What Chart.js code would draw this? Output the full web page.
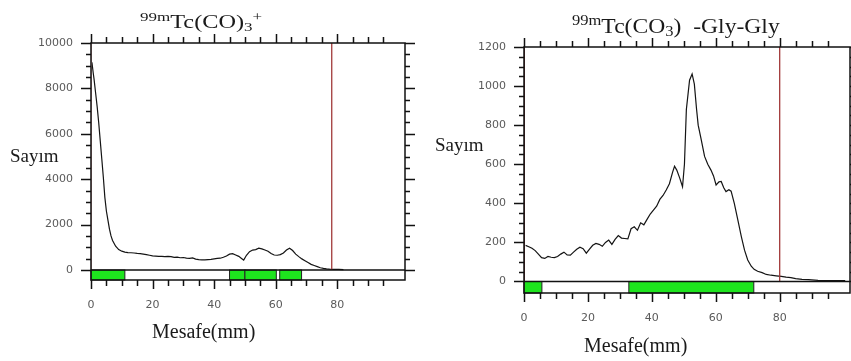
<!DOCTYPE html>
<html>
<head>
<meta charset="utf-8">
<script src="https://cdn.jsdelivr.net/npm/chart.js@4.4.0/dist/chart.umd.min.js"></script>
<style>
  body { margin: 0; background: #fff; width: 851px; height: 361px; position: relative; overflow: hidden; }
  canvas { position: absolute; top: 0; }
  #leftChart { left: 0; }
  #rightChart { left: 425px; }
  .txt { position: absolute; white-space: nowrap; color: #1a1a1a; font-family: "Liberation Serif", serif; line-height: 1; transform-origin: left top; }
  .sup { position: relative; font-size: 0.7em; top: -0.55em; }
  .sub { position: relative; font-size: 0.7em; top: 0.2em; }
</style>
</head>
<body>
<canvas id="leftChart" width="425" height="361"></canvas>
<canvas id="rightChart" width="426" height="361"></canvas>

<div class="txt" style="left:140px; top:13px; font-size:18px; transform:scaleX(1.35)"><span class="sup">99m</span>Tc(CO)<span class="sub">3</span><span class="sup">+</span></div>
<div class="txt" style="left:572px; top:16px; font-size:20px; transform:scaleX(1.18)"><span class="sup">99m</span>Tc(CO<span class="sub">3</span>)&nbsp; -Gly-Gly</div>
<div class="txt" style="left:10px; top:146px; font-size:19px">Sayım</div>
<div class="txt" style="left:435px; top:135px; font-size:19px">Sayım</div>
<div class="txt" style="left:152px; top:321px; font-size:20px">Mesafe(mm)</div>
<div class="txt" style="left:584px; top:335px; font-size:20px">Mesafe(mm)</div>

<script>
// tick labels shared by both panels
const xTickLabels = [0, 20, 40, 60, 80];
const xTickMarks = [0, 5, 10, 15, 20, 25, 30, 35, 40, 45, 50, 55, 60, 65, 70, 75, 80, 85, 90, 95];

// left panel: 99mTc(CO)3+
const leftDistance = [0.3, 0.7, 1, 1.5, 2, 2.5, 3, 3.5, 4, 4.5, 5, 5.5, 6, 6.5, 7, 8, 9, 10, 11, 12, 13, 14, 15,
  16, 17, 18, 19, 20, 21, 22, 23, 24, 25, 26, 27, 28, 29, 30, 31, 32, 33, 34, 35, 36, 37, 38, 39, 40, 41, 42,
  43, 44, 45, 46, 47, 48, 49, 49.6, 50.5, 51.5, 52.5, 53.5, 54.5, 55.5, 56.5, 57.5, 58.5, 59.5, 60.5, 61.5,
  62.5, 63.5, 64.5, 65.5, 66.5, 67.5, 68.5, 69.5, 70.5, 71.5, 72.5, 73.5, 74.5, 75.5, 76.5, 77.5, 79, 80.5, 82];
const leftCounts = [9150, 8700, 8400, 7800, 7200, 6500, 5700, 4900, 4100, 3200, 2600, 2200, 1800, 1500, 1300,
  1050, 900, 830, 790, 770, 760, 750, 730, 720, 700, 680, 650, 620, 610, 600, 600, 590, 600, 590, 560, 570,
  540, 550, 520, 510, 530, 480, 460, 450, 450, 460, 470, 490, 510, 520, 560, 620, 700, 720, 660, 600, 500,
  440, 650, 810, 880, 900, 960, 930, 880, 830, 730, 660, 650, 680, 750, 880, 960, 860, 700, 590, 490, 410,
  330, 250, 200, 150, 100, 70, 50, 40, 30, 30, 20];
const leftYTickLabels = [0, 2000, 4000, 6000, 8000, 10000];
const leftMarkers = [0, 78.2];
const leftZones = [[0, 11], [45, 50], [50, 60.2], [61.3, 68.4]];

// right panel: 99mTc(CO3)-Gly-Gly
const rightDistance = [0.5, 1.5, 2.5, 3.5, 4.5, 5.5, 6.5, 7.5, 8.5, 9.5, 10.5, 11.5, 12.5, 13.5, 14.5, 15.5,
  16.5, 17.5, 18.5, 19.5, 20.5, 21.5, 22.5, 23.5, 24.5, 25.5, 26.5, 27.5, 28.5, 29.5, 30.5, 31.5, 32.5, 33.5,
  34.5, 35.5, 36.5, 37.5, 38.5, 39.5, 40.5, 41.5, 42.5, 43.5, 44.5, 45.5, 46.5, 47.1, 47.8, 48.7, 49.6, 50.2,
  50.8, 51.8, 52.6, 53.3, 54, 54.5, 55.4, 56.5, 57.5, 58.5, 59.3, 60.1, 61, 61.7, 62.5, 63.2, 64.1, 64.8,
  65.8, 66.9, 68, 69, 70, 71.1, 72, 73.1, 74.5, 75.8, 77.3, 78.9, 80.5, 82, 83.5, 85, 87, 89, 92, 95, 98, 100.5];
const rightCounts = [185, 178, 170, 158, 140, 122, 118, 128, 124, 122, 128, 140, 150, 136, 135, 150, 165, 175,
  168, 145, 165, 185, 195, 190, 180, 200, 212, 190, 215, 235, 222, 220, 218, 270, 280, 262, 300, 290, 318,
  345, 365, 385, 420, 440, 468, 500, 560, 590, 570, 530, 485, 600, 880, 1030, 1062, 1010, 880, 800, 730,
  640, 600, 570, 540, 494, 510, 512, 480, 460, 470, 462, 400, 315, 230, 160, 110, 78, 62, 52, 45, 36, 32,
  29, 26, 22, 20, 15, 11, 9, 6, 5, 5, 5];
const rightYTickLabels = [0, 200, 400, 600, 800, 1000, 1200];
const rightMarkers = [0, 80];
const rightZones = [[0, 5.6], [32.8, 71.9]];

// frame, tick marks and green strip (TLC lane)
const framePlugin = {
  id: 'frame',
  afterDraw(chart, args, opts) {
    const { ctx, chartArea: a, scales: { x, y } } = chart;
    const y0 = y.getPixelForValue(0);
    ctx.save();
    opts.zones.forEach(([s, e]) => {
      const x1 = x.getPixelForValue(s), x2 = x.getPixelForValue(e);
      ctx.fillStyle = '#1ee41e';
      ctx.fillRect(x1, y0, x2 - x1, a.bottom - y0);
      ctx.strokeStyle = '#222';
      ctx.lineWidth = 1;
      ctx.strokeRect(x1, y0, x2 - x1, a.bottom - y0);
    });
    ctx.strokeStyle = '#111';
    ctx.lineWidth = 1.5;
    ctx.strokeRect(a.left, a.top, a.width, a.height);
    ctx.beginPath();
    ctx.moveTo(a.left, y0);
    ctx.lineTo(a.right, y0);
    // y tick marks, left and right side
    for (let v = 0; v <= opts.yMax; v += opts.yMinor) {
      const py = Math.round(y.getPixelForValue(v)) + 0.5;
      const len = v % opts.yMajor === 0 ? 10 : 5;
      ctx.moveTo(a.left - len, py);
      ctx.lineTo(a.left, py);
      ctx.moveTo(a.right, py);
      ctx.lineTo(a.right + len, py);
    }
    // x tick marks, top and bottom side
    xTickMarks.forEach(v => {
      const px = Math.round(x.getPixelForValue(v)) + 0.5;
      const len = v % 20 === 0 ? 9 : 6;
      ctx.moveTo(px, a.top - len);
      ctx.lineTo(px, a.top);
      ctx.moveTo(px, a.bottom);
      ctx.lineTo(px, a.bottom + len);
    });
    ctx.stroke();
    ctx.restore();
  }
};

function makeChart(id, cfg) {
  const markerSets = cfg.markers.map((m, i) => ({
    data: [{ x: m, y: 0 }, { x: m, y: cfg.yMax }],
    borderColor: i === 0 ? cfg.originColor : '#a23a3a',
    borderWidth: i === 0 ? 2 : 1.3,
    pointRadius: 0
  }));
  return new Chart(document.getElementById(id), {
    type: 'line',
    data: {
      datasets: markerSets.concat([{
        data: cfg.distance.map((d, i) => ({ x: d, y: cfg.counts[i] })),
        borderColor: '#141414',
        borderWidth: 1.2,
        pointRadius: 0,
        tension: 0
      }])
    },
    options: {
      responsive: false,
      animation: false,
      layout: { padding: { top: cfg.top, right: cfg.right, left: 0, bottom: 0 } },
      plugins: {
        legend: { display: false },
        tooltip: { enabled: false },
        frame: { zones: cfg.zones, yMax: cfg.yMax, yMinor: cfg.yMinor, yMajor: cfg.yMajor }
      },
      scales: {
        x: {
          type: 'linear', min: 0, max: 102,
          afterBuildTicks: s => { s.ticks = xTickLabels.map(v => ({ value: v })); },
          afterFit: s => { s.height = cfg.xHeight; },
          grid: { display: false, drawTicks: false },
          border: { display: false },
          ticks: { padding: 19, color: '#5a5a5a', autoSkip: false, maxRotation: 0,
                   font: { family: 'DejaVu Sans', size: 11 }, callback: v => String(v) }
        },
        y: {
          type: 'linear', min: cfg.yMin, max: cfg.yMax,
          afterBuildTicks: s => { s.ticks = cfg.yLabels.map(v => ({ value: v })); },
          afterFit: s => { s.width = cfg.yWidth; },
          grid: { display: false, drawTicks: false },
          border: { display: false },
          ticks: { padding: 18, color: '#5a5a5a', autoSkip: false,
                   font: { family: 'DejaVu Sans', size: 11 }, callback: v => String(v) }
        }
      }
    },
    plugins: [framePlugin]
  });
}

makeChart('leftChart', {
  distance: leftDistance, counts: leftCounts, yLabels: leftYTickLabels,
  markers: leftMarkers, zones: leftZones, originColor: '#eab4b4',
  yMin: -440, yMax: 10000, yMinor: 500, yMajor: 2000,
  top: 43, right: 20, yWidth: 91, xHeight: 81
});

makeChart('rightChart', {
  distance: rightDistance, counts: rightCounts, yLabels: rightYTickLabels,
  markers: rightMarkers, zones: rightZones, originColor: '#6e2c2c',
  yMin: -59, yMax: 1200, yMinor: 50, yMajor: 200,
  top: 47, right: 1, yWidth: 99, xHeight: 68
});
</script>
</body>
</html>
